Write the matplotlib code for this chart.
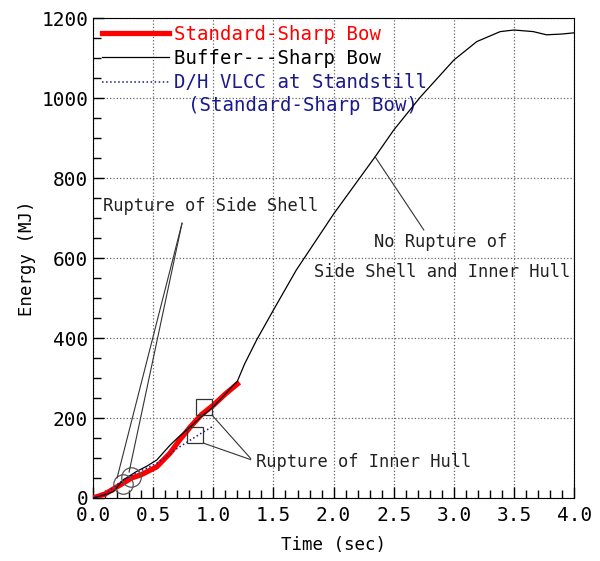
import numpy as np
import matplotlib
matplotlib.use("Agg")
import matplotlib.pyplot as plt
from matplotlib.ticker import MultipleLocator

plt.rcParams['font.family'] = ['DejaVu Sans Mono']

# Buffer---Sharp Bow
t_buffer = [0, 0.1, 0.17, 0.25, 0.36, 0.45, 0.53, 0.64, 0.72, 0.81, 0.9, 1.0, 1.1, 1.17,
            1.2, 1.26, 1.36, 1.5, 1.69, 2.0, 2.345, 2.5, 2.72, 3.0, 3.19, 3.385, 3.5,
            3.66, 3.77, 3.9, 4.0]
e_buffer = [0, 8, 16, 45, 66, 80, 95, 132, 155, 178, 203, 228, 260, 283,
            292, 335, 395, 470, 570, 710, 853, 920, 1002, 1095, 1141, 1166, 1170,
            1166, 1158, 1160, 1163]

# Standard-Sharp Bow
t_standard = [0, 0.1, 0.25, 0.32, 0.40, 0.53, 0.64, 0.72, 0.81, 0.9, 1.0, 1.1, 1.2]
e_standard = [0, 10, 37, 50, 58, 78, 112, 145, 178, 208, 232, 260, 285]

# D/H VLCC at standstill
t_standstill = [0, 0.1, 0.25, 0.35, 0.45, 0.53, 0.62, 0.70, 0.81, 0.9, 0.99]
e_standstill = [0, 10, 45, 62, 75, 87, 105, 124, 145, 162, 178]

# markers for rupture events
circle_t = [0.25, 0.32]
circle_e = [35, 53]
square_t = [0.925, 0.85]
square_e = [228, 157]

# pointer lines (start, end)
side_shell_lines = [((0.20, 50), (0.74, 687)), ((0.30, 65), (0.74, 687))]
inner_hull_lines = [((0.99, 207), (1.31, 99)), ((0.92, 137), (1.31, 96))]
no_rupture_line = [((2.345, 853), (2.75, 670))]

fig = plt.figure(figsize=(6, 5.61), dpi=100)
ax = fig.add_axes([0.155, 0.1123, 0.802, 0.8556])

ax.plot(t_standard, e_standard, color='red', lw=3.8, label='Standard-Sharp Bow', zorder=3)
ax.plot(t_buffer, e_buffer, color='black', lw=0.9, label='Buffer---Sharp Bow', zorder=4)
ax.plot(t_standstill, e_standstill, color='#1a1a8c', lw=1.1, ls=':', label='D/H VLCC at Standstill', zorder=4)

ax.plot(circle_t, circle_e, ls='none', marker='o', ms=14, mfc='none', mec='#555555', mew=0.9, zorder=5)
ax.plot(square_t, square_e, ls='none', marker='s', ms=11.5, mfc='none', mec='#333333', mew=0.9, zorder=5)

for (x0, y0), (x1, y1) in side_shell_lines + inner_hull_lines + no_rupture_line:
    ax.plot([x0, x1], [y0, y1], color='#333333', lw=0.8, zorder=5)

ax.text(0.98, 730, 'Rupture of Side Shell', fontsize=12.3, ha='center', va='center', color='#222222')
ax.text(2.25, 90, 'Rupture of Inner Hull', fontsize=12.3, ha='center', va='center', color='#222222')
ax.text(2.89, 641, 'No Rupture of', fontsize=12.3, ha='center', va='center', color='#222222')
ax.text(2.90, 566, 'Side Shell and Inner Hull', fontsize=12.3, ha='center', va='center', color='#222222')

leg = ax.legend(loc='upper left', bbox_to_anchor=(0.005, 1.0), frameon=False, fontsize=13.7,
                handlelength=3.5, handletextpad=0.3, borderpad=0.15, borderaxespad=0.2,
                labelspacing=0.28, labelcolor=['red', 'black', '#1a1a8c'])
ax.text(0.197, 0.818, '(Standard-Sharp Bow)', transform=ax.transAxes, fontsize=13.7,
        color='#1a1a8c', ha='left', va='center')

ax.set_xlim(0, 4.0)
ax.set_ylim(0, 1200)
ax.xaxis.set_major_locator(MultipleLocator(0.5))
ax.xaxis.set_minor_locator(MultipleLocator(0.1))
ax.yaxis.set_major_locator(MultipleLocator(200))
ax.yaxis.set_minor_locator(MultipleLocator(50))
ax.xaxis.set_major_formatter(matplotlib.ticker.FormatStrFormatter('%.1f'))
ax.tick_params(which='major', direction='in', length=8, width=1, labelsize=14)
ax.tick_params(which='minor', direction='in', length=6, width=1)
ax.tick_params(axis='x', which='major', pad=5.5)
ax.grid(True, which='major', ls=':', color='#666666', lw=0.9)

ax.set_xlabel('Time (sec)', fontsize=12.6, labelpad=8)
ax.set_ylabel('Energy (MJ)', fontsize=12.5)

fig.savefig('out.png', dpi=100)
